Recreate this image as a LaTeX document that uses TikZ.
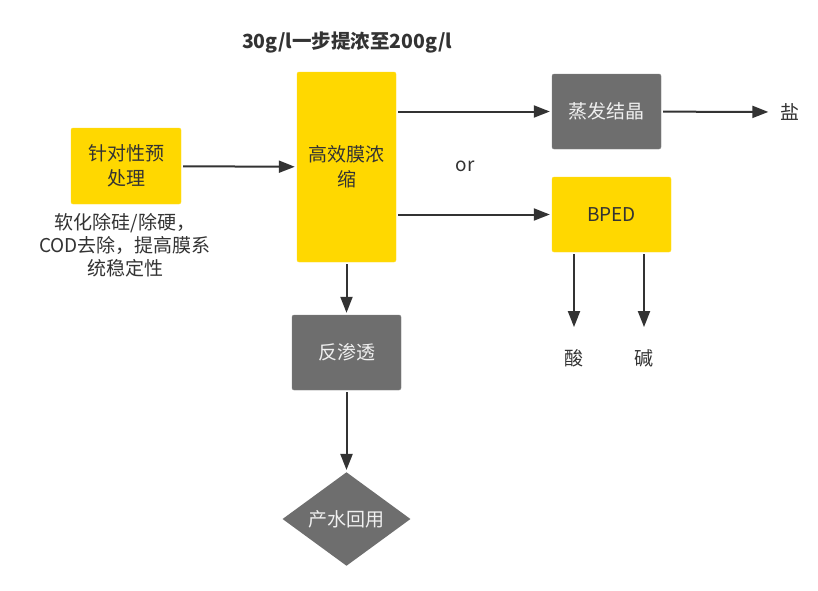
\documentclass[tikz,border=0pt]{standalone}
\usepackage{fontspec}
\setmainfont{Noto Sans CJK SC}
\usetikzlibrary{arrows.meta,shapes.geometric}
\definecolor{boxyellow}{HTML}{FFD800}
\definecolor{boxgray}{HTML}{6E6E6E}
\definecolor{inkdark}{HTML}{333333}
\tikzset{every node/.style={font=\fontsize{19}{25}\selectfont},
         yellowbox/.style={draw=boxyellow!85!white,fill=boxyellow,rounded corners=2pt,
                           text=inkdark,align=center,inner sep=0pt},
         graybox/.style={draw=boxgray!85!white,fill=boxgray,rounded corners=2pt,
                         text=white!94!black,align=center,inner sep=0pt},
         plaintext/.style={text=inkdark,align=center,inner sep=0pt},
         flow/.style={draw=inkdark,line width=2pt,shorten <=2pt,shorten >=2pt,
                      -{Triangle[length=16pt,width=12pt]}}}

\begin{document}
\begin{tikzpicture}[x=1pt,y=-1pt]
      \fill[white] (0,0) rectangle (818,590);
      \useasboundingbox (0,0) rectangle (818,590);
      % title
      \node[plaintext,font=\fontsize{19.5}{24}\selectfont\bfseries] (title) at (347,42) {30g/l一步提浓至200g/l};
      % boxes
      \node[yellowbox,minimum width=110pt,minimum height=76pt] (pretreat) at (126,166) {针对性预\\处理};
      \node[plaintext,font=\fontsize{19}{23}\selectfont] (note) at (125,245) {软化除硅/除硬，\\COD去除，提高膜系\\统稳定性};
      \node[yellowbox,minimum width=99pt,minimum height=190pt] (conc) at (346.5,167) {高效膜浓\\缩};
      \node[graybox,minimum width=109pt,minimum height=75pt] (evap) at (606.5,111.5) {蒸发结晶};
      \node[yellowbox,minimum width=119pt,minimum height=75pt] (bped) at (611.5,214.5) {BPED};
      \node[graybox,minimum width=109pt,minimum height=75pt] (ro) at (346.5,352.5) {反渗透};
      \node[diamond,fill=boxgray,text=white!94!black,inner sep=0pt,
            minimum width=128pt,minimum height=86pt] (reuse) at (346.5,519) {产水回用};
      % outputs
      \node[plaintext] (orlabel) at (465,166) {or};
      \node[plaintext] (salt) at (790,112) {盐};
      \node[plaintext] (acid) at (574,358) {酸};
      \node[plaintext] (base) at (644,358) {碱};
      % connectors
      \draw[flow] (pretreat) -- (conc);
      \draw[flow] (conc.east |- evap.west) -- (evap.west);
      \draw[flow] (conc.east |- bped.west) -- (bped.west);
      \draw[flow,shorten >=12pt] (evap) -- (salt);
      \draw[flow,shorten >=22pt] (bped.south -| acid) -- (acid.north);
      \draw[flow,shorten >=22pt] (bped.south -| base) -- (base.north);
      \draw[flow] (conc) -- (ro);
      \draw[flow] (ro) -- (reuse);
\end{tikzpicture}
\end{document}
